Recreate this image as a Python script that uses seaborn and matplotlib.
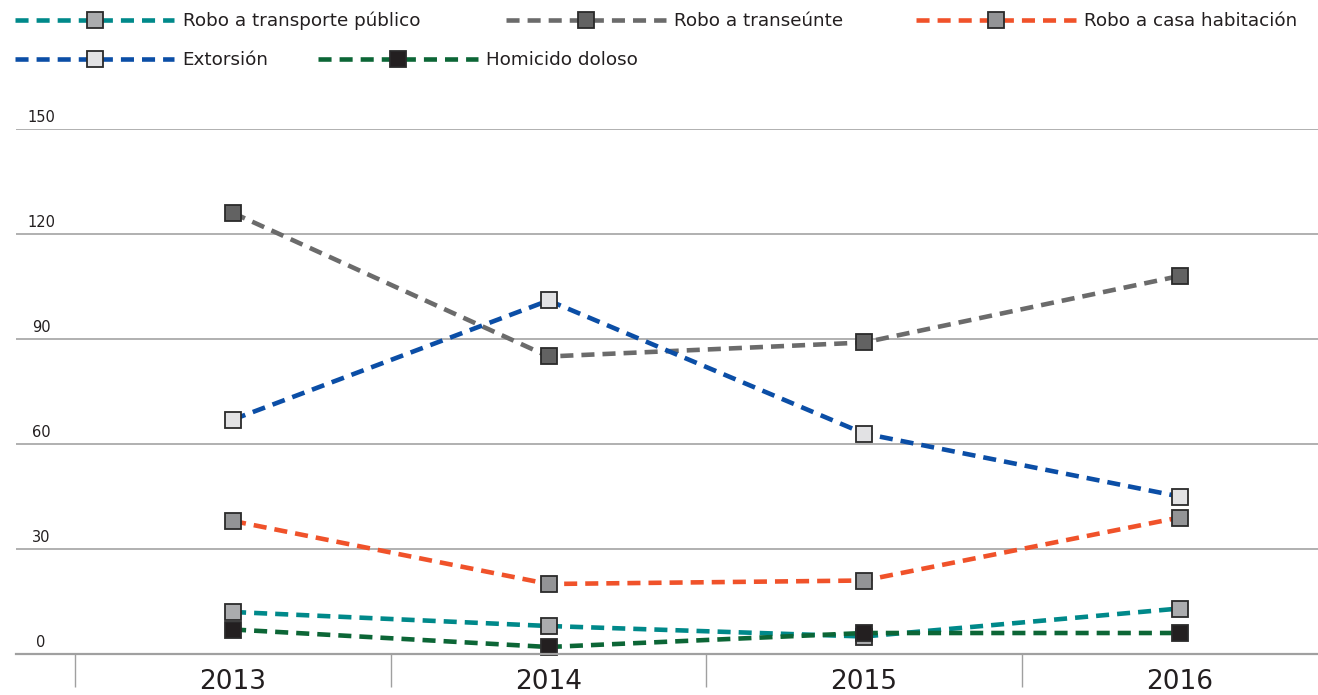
import matplotlib
matplotlib.use("Agg")
import matplotlib.pyplot as plt
import seaborn as sns
import pandas as pd
from matplotlib.lines import Line2D

years = [2013, 2014, 2015, 2016]
series_names = ["Robo a transporte público", "Robo a transeúnte", "Robo a casa habitación",
                "Extorsión", "Homicido doloso"]
transporte = [12, 8, 5, 13]
transeunte = [126, 85, 89, 108]
casa = [38, 20, 21, 39]
extorsion = [67, 101, 63, 45]
homicidio = [7, 2, 6, 6]
y_ticks = [0, 30, 60, 90, 120, 150]

line_colors = ["#00898A", "#6B6B6B", "#F0522A", "#0B4EA6", "#0C6636"]
face_colors = ["#ABACAE", "#626262", "#939496", "#E2E2E4", "#231F20"]

values = [transporte, transeunte, casa, extorsion, homicidio]

sns.set_theme(style="white")
plt.rcParams['font.family'] = ['DejaVu Sans']

fig = plt.figure(figsize=(13.18, 6.95), dpi=100)
W, H = 1318, 695
ax = fig.add_axes([16 / W, 41 / H, 1302 / W, (654 - 129) / H])

dash = (0, (2.85, 1.75))
handles = []
for name, vals, lc, fc in zip(series_names, values, line_colors, face_colors):
    df = pd.DataFrame({"year": years, "value": vals})
    sns.lineplot(data=df, x="year", y="value", ax=ax, color=lc, linewidth=3.3,
                 linestyle=dash, marker="s", markersize=12, markerfacecolor=fc,
                 markeredgecolor="#2A2A2A", markeredgewidth=1.3, clip_on=False)
    handles.append(Line2D([], [], color=lc, linewidth=3.3, linestyle=dash, marker="s",
                          markersize=12, markerfacecolor=fc, markeredgecolor="#2A2A2A",
                          markeredgewidth=1.3))

ax.set_xlim(years[0] - 0.688, years[0] + 3.439)
ax.set_ylim(0, 150)
ax.set_xlabel("")
ax.set_ylabel("")

for sp in ["top", "right", "left"]:
    ax.spines[sp].set_visible(False)
ax.spines["bottom"].set_color("#A0A0A0")
ax.spines["bottom"].set_linewidth(1.6)

for v in y_ticks[1:]:
    ax.axhline(v, color="#B0B0B0", linewidth=1.4, zorder=0)
ax.set_yticks([])
for v in y_ticks:
    ax.annotate(str(v), xy=(25 / 1302, v), xycoords=("axes fraction", "data"),
                xytext=(0, 3), textcoords="offset points", ha="center", va="bottom",
                fontsize=10.5, color="#231F20")

ax.set_xticks(years)
ax.set_xticklabels([str(y) for y in years], fontsize=19, color="#231F20")
ax.set_xticks([y + 0.5 for y in [years[0] - 1] + years[:-1]], minor=True)
ax.tick_params(axis="x", which="major", length=0, pad=11)
ax.tick_params(axis="x", which="minor", length=24, width=1.0, color="#A0A0A0",
               direction="out", bottom=True)

# legend items (flow layout)
leg_pos = [(15, 21), (506, 21), (916, 21), (15, 60), (318, 60)]
for h, name, (px, py) in zip(handles, series_names, leg_pos):
    leg = fig.legend([h], [name], loc="center left",
                     bbox_to_anchor=(px / W, 1 - py / H), frameon=False,
                     fontsize=13.2, handlelength=8.7, handletextpad=0.45,
                     borderpad=0, borderaxespad=0, numpoints=1)
    for t in leg.get_texts():
        t.set_color("#231F20")

fig.savefig("out.png", dpi=100)
